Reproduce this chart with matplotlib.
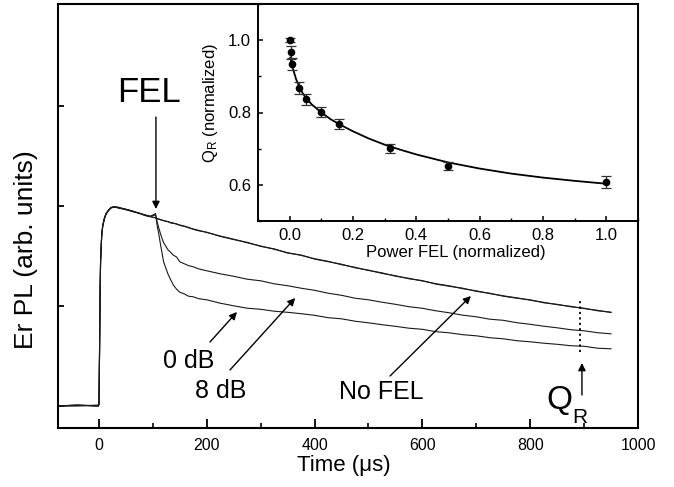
import matplotlib
matplotlib.use("Agg")
import matplotlib.pyplot as plt
from matplotlib.ticker import MultipleLocator

plt.rcParams['font.family'] = ['Liberation Sans', 'DejaVu Sans']
plt.rcParams['mathtext.default'] = 'regular'

# ---------------- main panel data ----------------
time_us = [-76, -40, -1, 0, 1, 2, 3, 5, 7, 10, 13, 17, 22, 28, 35, 45, 55, 65, 75, 85, 95,
           105, 108, 111, 114, 117, 120, 124, 128, 133, 138, 144, 150, 158, 166, 175, 185,
           200, 225, 250, 275, 300, 325, 350, 375, 400, 425, 450, 475, 500, 525, 550, 575,
           600, 625, 650, 675, 700, 725, 750, 775, 800, 825, 850, 875, 900, 925, 950]

no_fel_a = [0.0, 0.01, 0.0, 0.02, 0.5, 1.1, 1.45, 1.70, 1.80, 1.87, 1.92, 1.95, 1.98, 1.99, 1.985, 1.975, 1.96, 1.945, 1.925, 1.91, 1.895,
            1.88, 1.875, 1.87, 1.862, 1.86, 1.853, 1.85, 1.842, 1.835, 1.83, 1.818, 1.81, 1.80, 1.783, 1.77, 1.757,
            1.735, 1.70, 1.668, 1.632, 1.60, 1.567, 1.533, 1.506, 1.473, 1.447, 1.413, 1.387, 1.355, 1.332, 1.298, 1.277,
            1.25, 1.223, 1.202, 1.173, 1.152, 1.124, 1.102, 1.082, 1.058, 1.037, 1.013, 0.997, 0.974, 0.957, 0.935]

no_fel_b = [0.0, 0.0, 0.01, 0.02, 0.48, 1.08, 1.44, 1.69, 1.80, 1.88, 1.925, 1.955, 1.985, 1.995, 1.98, 1.97, 1.955, 1.94, 1.928, 1.905, 1.893,
            1.883, 1.872, 1.866, 1.866, 1.855, 1.856, 1.845, 1.846, 1.83, 1.826, 1.822, 1.806, 1.796, 1.787, 1.766, 1.752,
            1.738, 1.696, 1.664, 1.637, 1.596, 1.572, 1.529, 1.51, 1.469, 1.443, 1.418, 1.382, 1.359, 1.326, 1.303, 1.272,
            1.254, 1.219, 1.197, 1.178, 1.146, 1.128, 1.098, 1.078, 1.062, 1.032, 1.017, 0.992, 0.978, 0.952, 0.938]

db8 = [0.0, 0.005, 0.0, 0.02, 0.52, 1.12, 1.46, 1.71, 1.81, 1.875, 1.92, 1.952, 1.982, 1.99, 1.99, 1.972, 1.962, 1.942, 1.927, 1.912, 1.898,
       1.91, 1.84, 1.78, 1.725, 1.675, 1.632, 1.597, 1.562, 1.537, 1.508, 1.49, 1.442, 1.423, 1.404, 1.392, 1.371,
       1.352, 1.322, 1.297, 1.268, 1.252, 1.222, 1.203, 1.178, 1.157, 1.128, 1.107, 1.078, 1.062, 1.038, 1.017, 0.993,
       0.977, 0.952, 0.932, 0.908, 0.892, 0.868, 0.857, 0.833, 0.817, 0.798, 0.782, 0.763, 0.752, 0.733, 0.722]

db0 = [0.0, 0.01, 0.0, 0.02, 0.5, 1.1, 1.45, 1.70, 1.80, 1.87, 1.915, 1.95, 1.98, 1.99, 1.985, 1.97, 1.958, 1.944, 1.928, 1.908, 1.895,
       1.925, 1.80, 1.72, 1.62, 1.53, 1.44, 1.38, 1.32, 1.262, 1.21, 1.168, 1.138, 1.122, 1.098, 1.092, 1.073,
       1.062, 1.028, 1.002, 0.978, 0.967, 0.948, 0.937, 0.923, 0.907, 0.883, 0.872, 0.848, 0.832, 0.813, 0.797, 0.778,
       0.767, 0.743, 0.732, 0.713, 0.702, 0.683, 0.672, 0.653, 0.642, 0.628, 0.617, 0.603, 0.597, 0.578, 0.572]

main_xticks = [0, 200, 400, 600, 800, 1000]
main_yticks = [0, 1, 2, 3]
qr_time = 892

# ---------------- inset data ----------------
power = [0.0, 0.003, 0.0085, 0.029, 0.05, 0.098, 0.156, 0.316, 0.5, 1.0]
q_r = [1.0, 0.966, 0.934, 0.868, 0.836, 0.802, 0.768, 0.701, 0.653, 0.607]
q_err = [0.006, 0.018, 0.017, 0.017, 0.016, 0.014, 0.015, 0.013, 0.011, 0.017]

fit_x = [0.002, 0.005, 0.01, 0.02, 0.03, 0.04, 0.05, 0.07, 0.1, 0.13, 0.16, 0.2, 0.25, 0.3,
         0.35, 0.4, 0.5, 0.6, 0.7, 0.8, 0.9, 1.0]
fit_y = [0.952, 0.94, 0.922, 0.893, 0.872, 0.855, 0.842, 0.822, 0.800, 0.781, 0.766, 0.748, 0.728, 0.711,
         0.697, 0.684, 0.662, 0.645, 0.631, 0.620, 0.611, 0.603]

inset_xticks = [0.0, 0.2, 0.4, 0.6, 0.8, 1.0]
inset_yticks = [0.6, 0.8, 1.0]

# ---------------- figure ----------------
W, H = 674, 487
fig = plt.figure(figsize=(W / 100, H / 100), dpi=100)

ax = fig.add_axes([58 / W, (H - 428) / H, 580 / W, 424 / H])
lc = '#1a1a1a'
ax.plot(time_us, no_fel_a, color=lc, lw=0.8)
ax.plot(time_us, no_fel_b, color=lc, lw=0.8)
ax.plot(time_us, db8, color=lc, lw=0.8)
ax.plot(time_us, db0, color=lc, lw=0.8)

ax.set_xlim(-76, 1000)
ax.set_ylim(-0.22, 4.02)
ax.set_xticks(main_xticks)
ax.xaxis.set_minor_locator(MultipleLocator(100))
ax.set_yticks(main_yticks)
ax.set_yticklabels([])
ax.tick_params(axis='x', which='major', direction='in', length=6.5, width=1.3,
               labelsize=11.5, pad=7)
ax.tick_params(axis='x', which='minor', direction='in', length=3.5, width=1.2)
ax.tick_params(axis='y', which='major', direction='in', length=4.5, width=1.3)
for s in ax.spines.values():
    s.set_linewidth(1.5)

# dotted Q_R marker line
ax.plot([qr_time, qr_time], [0.54, 1.07], color='black', lw=1.3, ls=(0, (1.2, 1.8)))

arrow = dict(arrowstyle='-|>', color='black', lw=1.0, mutation_scale=11,
             shrinkA=0, shrinkB=0)
ax.annotate('', xy=(105.7, 1.97), xytext=(105.7, 2.89), arrowprops=arrow)
ax.annotate('', xy=(256, 0.94), xytext=(206, 0.64), arrowprops=arrow)
ax.annotate('', xy=(364, 1.08), xytext=(243, 0.36), arrowprops=arrow)
ax.annotate('', xy=(690, 1.10), xytext=(540, 0.30), arrowprops=arrow)
ax.annotate('', xy=(896, 0.43), xytext=(896, 0.11), arrowprops=arrow)

ax.text(92, 3.04, 'FEL', fontsize=25, ha='center', va='baseline')
ax.text(166, 0.38, '0 dB', fontsize=18, ha='center', va='baseline')
ax.text(226, 0.08, '8 dB', fontsize=18, ha='center', va='baseline')
ax.text(523, 0.07, 'No FEL', fontsize=18, ha='center', va='baseline')
ax.text(854, -0.03, 'Q', fontsize=24, ha='center', va='baseline')
ax.text(892, -0.17, 'R', fontsize=15, ha='center', va='baseline')

fig.text(344 / W, 1 - 466 / H, 'Time (\u03bcs)', fontsize=16, ha='center', va='center')
fig.text(26 / W, 1 - 250 / H, 'Er PL (arb. units)', fontsize=19, ha='center', va='center',
         rotation=90)

# ---------------- inset ----------------
ins = fig.add_axes([258 / W, (H - 221) / H, 380 / W, 217 / H])
ins.plot(fit_x, fit_y, color='black', lw=1.3)
ins.errorbar(power, q_r, yerr=q_err, fmt='o', color='black', ecolor='#333333',
             ms=4.5, capsize=3.5, elinewidth=0.9, capthick=0.9)
ins.set_xlim(-0.1, 1.1)
ins.set_ylim(0.5, 1.1)
ins.set_xticks(inset_xticks)
ins.set_xticklabels([f'{v:.1f}' for v in inset_xticks])
ins.set_yticks(inset_yticks)
ins.set_yticklabels([f'{v:.1f}' for v in inset_yticks])
ins.xaxis.set_minor_locator(MultipleLocator(0.1))
ins.yaxis.set_minor_locator(MultipleLocator(0.1))
ins.tick_params(which='major', direction='in', length=3.5, width=1.1, labelsize=12, pad=5)
ins.tick_params(which='minor', direction='in', length=2.2, width=1.0)
for s in ins.spines.values():
    s.set_linewidth(1.4)

fig.text(456 / W, 1 - 252 / H, 'Power FEL (normalized)', fontsize=12, ha='center', va='center')
fig.text(211 / W, 1 - 103 / H, '$Q_R$ (normalized)', fontsize=12, ha='center', va='center',
         rotation=90)

fig.savefig('out.png', dpi=100)
